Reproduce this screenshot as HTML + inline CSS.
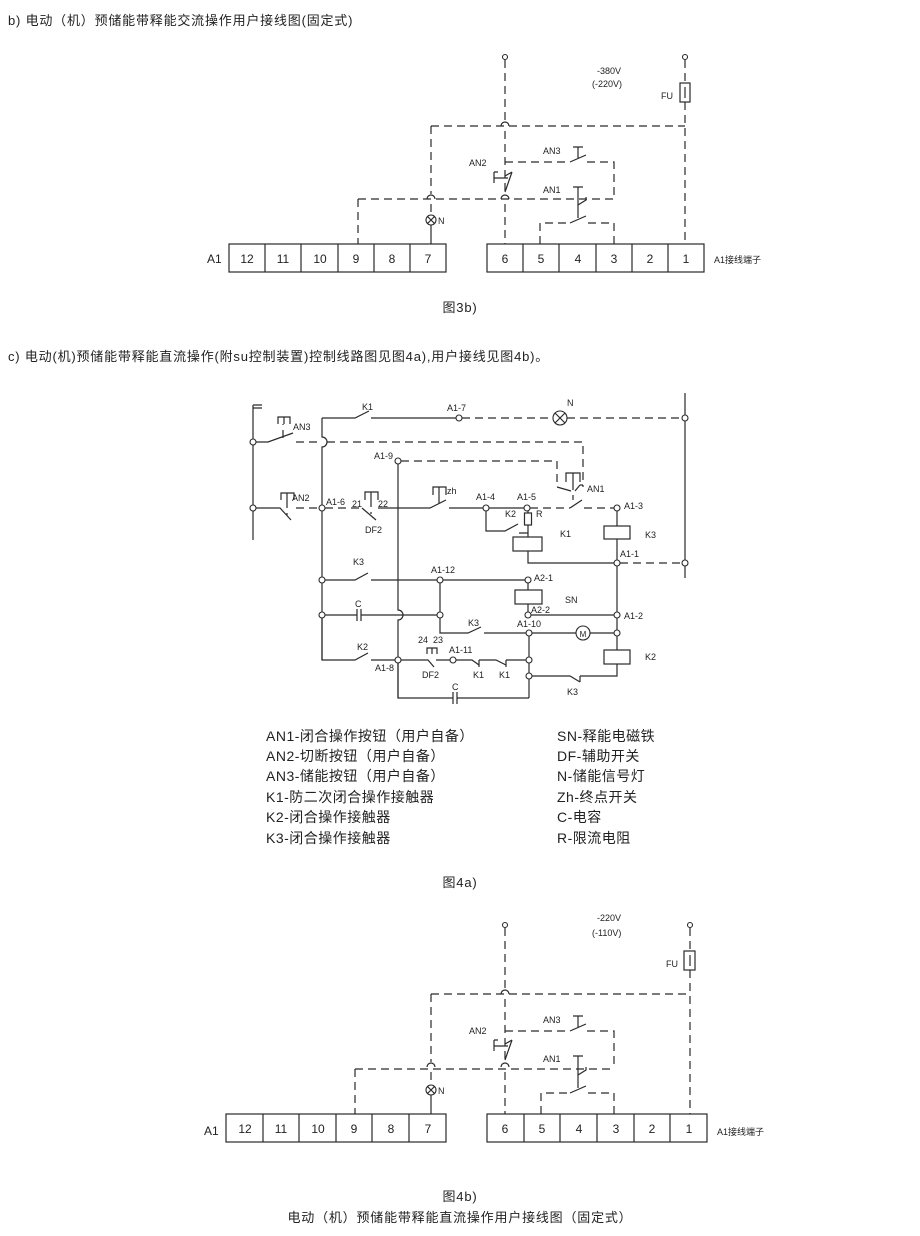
<!DOCTYPE html>
<html><head><meta charset="utf-8">
<style>
html,body{margin:0;padding:0;background:#fff;}
svg{display:block;}
text{font-family:"Liberation Sans","Noto Sans CJK SC",sans-serif;fill:#222;}
.s{stroke:#2a2a2a;stroke-width:1.2;fill:none;}
.d{stroke:#2a2a2a;stroke-width:1.2;fill:none;stroke-dasharray:8,5;}
.c{stroke:#2a2a2a;stroke-width:1.1;fill:#fff;}
.t{font-size:9px;}
.h{font-size:13px;letter-spacing:0.8px;}
.n{font-size:12px;text-anchor:middle;}
.lg{font-size:14px;letter-spacing:0.5px;}
</style></head><body>
<svg width="920" height="1236" viewBox="0 0 920 1236" xmlns="http://www.w3.org/2000/svg">
<text x="8" y="25" class="h">b) 电动（机）预储能带释能交流操作用户接线图(固定式)</text>

<!-- ===== Fig 3b ===== -->
<g>
<circle cx="505" cy="57" r="2.5" class="c"/><circle cx="685" cy="57" r="2.5" class="c"/>
<path class="d" d="M505 60V121M505 131V194M505 204V244"/>
<path class="s" d="M501 126a4 4 0 0 1 8 0M501 199a4 4 0 0 1 8 0"/>
<path class="d" d="M685 60V83M685 102V244"/>
<rect x="680" y="83" width="10" height="19" class="s"/><path class="s" d="M685 87V98"/>
<text x="597" y="74" class="t">-380V</text><text x="592" y="87" class="t">(-220V)</text>
<text x="661" y="99" class="t">FU</text>
<path class="d" d="M431 126H685M431 126V194M431 204V215"/>
<path class="s" d="M427 199a4 4 0 0 1 8 0"/>
<circle cx="431" cy="220" r="5" class="c"/><path class="s" d="M427.5 216.5l7 7M434.5 216.5l-7 7M431 225V244"/>
<text x="438" y="224" class="t">N</text>
<path class="d" d="M358 199H614M358 199V244"/>
<path class="d" d="M505 162H570M587 162H614V199"/>
<path class="s" d="M570 162L586 155M578 158V147M573 147H583"/>
<text x="543" y="154" class="t">AN3</text>
<path class="s" d="M505 192L512 172M512 172L505 176M494 172V183M494 178H508M494 172h4"/>
<text x="469" y="166" class="t">AN2</text>
<path class="s" d="M578 187V218M573 187H583M578 205L586 200L586 197M570 223L586 216"/>
<text x="543" y="193" class="t">AN1</text>
<path class="d" d="M540 244V223H570M588 223H614V244"/>
<text x="207" y="263" style="font-size:12px">A1</text>
<g class="s"><rect x="229" y="244" width="217" height="28"/><path d="M265 244v28M301 244v28M338 244v28M374 244v28M410 244v28"/>
<rect x="487" y="244" width="217" height="28"/><path d="M523 244v28M559 244v28M596 244v28M632 244v28M668 244v28"/></g>
<text x="247" y="263" class="n">12</text><text x="283" y="263" class="n">11</text><text x="320" y="263" class="n">10</text><text x="356" y="263" class="n">9</text><text x="392" y="263" class="n">8</text><text x="428" y="263" class="n">7</text>
<text x="505" y="263" class="n">6</text><text x="541" y="263" class="n">5</text><text x="578" y="263" class="n">4</text><text x="614" y="263" class="n">3</text><text x="650" y="263" class="n">2</text><text x="686" y="263" class="n">1</text>
<text x="714" y="263" class="t">A1接线端子</text>
</g>
<text x="460" y="312" class="h" text-anchor="middle">图3b)</text>
<text x="8" y="361" class="h">c) 电动(机)预储能带释能直流操作(附su控制装置)控制线路图见图4a),用户接线见图4b)。</text>

<!-- ===== Fig 4a ===== -->
<g>
<path class="s" d="M253 405V540M253 405h9M253 408h9"/>
<circle cx="253" cy="442" r="3" class="c"/>
<path class="s" d="M256 442H268L293 433"/>
<path class="d" d="M283 438V424"/><path class="s" d="M278 424V417H290V424M284 417v7"/>
<text x="293" y="430" class="t">AN3</text>
<path class="d" d="M296 442H317M327 442H583V487"/>
<path class="s" d="M322 418V437a5 5 0 0 1 0 10V660"/>
<path class="s" d="M322 418H355L369 411M371 418H456"/>
<text x="362" y="410" class="t">K1</text>
<circle cx="459" cy="418" r="3" class="c"/><text x="447" y="411" class="t">A1-7</text>
<path class="d" d="M462 418H553M567 418H682"/>
<circle cx="560" cy="418" r="7" class="c"/><path class="s" d="M555 413l10 10M565 413l-10 10"/>
<text x="567" y="406" class="t">N</text>
<path class="s" d="M685 393V578"/>
<circle cx="685" cy="418" r="3" class="c"/><circle cx="685" cy="563" r="3" class="c"/>
<circle cx="398" cy="461" r="3" class="c"/><text x="374" y="459" class="t">A1-9</text>
<path class="d" d="M401 461H557V487"/>
<path class="s" d="M398 464V610a5 5 0 0 1 0 10V698"/>
<path class="s" d="M566 482V473H580V482M573 473v9"/>
<path class="d" d="M573 482V500"/>
<path class="s" d="M557 487L571 491M575 491L580 485M580 485H583"/>
<text x="587" y="492" class="t">AN1</text>
<circle cx="253" cy="508" r="3" class="c"/>
<path class="s" d="M256 508H280L291 520M281 500V493H294V500M287 493v7"/>
<path class="d" d="M287 500V515M296 508H319"/>
<text x="292" y="501" class="t">AN2</text>
<circle cx="322" cy="508" r="3" class="c"/><text x="326" y="505" class="t">A1-6</text>
<path class="d" d="M325 508H362"/>
<path class="s" d="M362 508L376 520M365 500V492H378V500M371 492v7"/>
<path class="d" d="M371 499V514"/>
<text x="352" y="507" class="t">21</text><text x="378" y="507" class="t">22</text>
<text x="365" y="533" class="t">DF2</text>
<path class="s" d="M378 508H430L446 500M449 508H483"/>
<path class="s" d="M433 495V487H446V495M439 487v8"/><path class="d" d="M439 495V505"/>
<text x="447" y="494" class="t">zh</text>
<circle cx="486" cy="508" r="3" class="c"/><text x="476" y="500" class="t">A1-4</text>
<path class="s" d="M489 508H524"/>
<circle cx="527" cy="508" r="3" class="c"/><text x="517" y="500" class="t">A1-5</text>
<path class="d" d="M530 508H570"/>
<path class="s" d="M570 508L582 500"/>
<path class="d" d="M584 508H614"/>
<circle cx="617" cy="508" r="3" class="c"/><text x="624" y="509" class="t">A1-3</text>
<path class="s" d="M486 511V531H505L518 524M519 533H528M528 511V513M528 525V537"/>
<rect x="524.5" y="513" width="7" height="12" class="s"/>
<text x="505" y="517" class="t">K2</text><text x="536" y="517" class="t">R</text>
<rect x="513" y="537" width="29" height="14" class="s"/>
<text x="560" y="537" class="t">K1</text>
<path class="s" d="M528 551V563H614"/>
<circle cx="617" cy="563" r="3" class="c"/><text x="620" y="557" class="t">A1-1</text>
<path class="d" d="M620 563H682"/>
<path class="s" d="M617 511V526M617 539V560"/>
<rect x="604" y="526" width="26" height="13" class="s"/><text x="645" y="538" class="t">K3</text>
<path class="s" d="M617 566V612M617 618V630M617 636V650"/>
<circle cx="322" cy="580" r="3" class="c"/>
<path class="s" d="M325 580H355L368 573M371 580H437"/>
<text x="353" y="565" class="t">K3</text>
<circle cx="440" cy="580" r="3" class="c"/><text x="431" y="573" class="t">A1-12</text>
<path class="s" d="M443 580H525"/>
<circle cx="528" cy="580" r="3" class="c"/><text x="534" y="581" class="t">A2-1</text>
<path class="s" d="M528 583V590M528 604V612"/>
<rect x="515" y="590" width="27" height="14" class="s"/><text x="565" y="603" class="t">SN</text>
<circle cx="528" cy="615" r="3" class="c"/><text x="531" y="613" class="t">A2-2</text>
<path class="s" d="M531 615H614"/>
<circle cx="617" cy="615" r="3" class="c"/><text x="624" y="619" class="t">A1-2</text>
<circle cx="322" cy="615" r="3" class="c"/>
<path class="s" d="M325 615H357M357 609V621M361 609V621M361 615H437"/>
<text x="355" y="607" class="t">C</text>
<circle cx="440" cy="615" r="3" class="c"/>
<path class="s" d="M440 583V612M440 618V633H468L481 627M484 633H526"/>
<text x="468" y="626" class="t">K3</text>
<circle cx="529" cy="633" r="3" class="c"/><text x="517" y="627" class="t">A1-10</text>
<path class="s" d="M532 633H576M590 633H614"/>
<circle cx="583" cy="633" r="7" class="c"/><text x="583" y="637" class="t" text-anchor="middle" style="font-size:8px">M</text>
<circle cx="617" cy="633" r="3" class="c"/>
<rect x="604" y="650" width="26" height="14" class="s"/><text x="645" y="660" class="t">K2</text>
<path class="s" d="M322 618V660H355L368 653M371 660H395"/>
<text x="357" y="650" class="t">K2</text>
<circle cx="398" cy="660" r="3" class="c"/><text x="375" y="671" class="t">A1-8</text>
<path class="s" d="M401 660H428L434 667M436 660H450M427 654V648H437V654M432 648v6"/>
<text x="418" y="643" class="t">24</text><text x="433" y="643" class="t">23</text>
<text x="422" y="678" class="t">DF2</text>
<circle cx="453" cy="660" r="3" class="c"/><text x="449" y="653" class="t">A1-11</text>
<path class="s" d="M456 660H472L479 665M479 660V667M479 660H496L506 665M506 660V667M506 660H526"/>
<text x="473" y="678" class="t">K1</text><text x="499" y="678" class="t">K1</text>
<circle cx="529" cy="660" r="3" class="c"/>
<path class="s" d="M529 636V657M529 663V673M529 679V698"/>
<circle cx="529" cy="676" r="3" class="c"/>
<path class="s" d="M532 676H570L580 682M580 676V682M580 676H617V664"/>
<text x="567" y="695" class="t">K3</text>
<path class="s" d="M398 663V698H453M453 692V704M457 692V704M457 698H529"/>
<text x="452" y="690" class="t">C</text>
</g>

<!-- legend -->
<text x="266" y="741" class="lg">AN1-闭合操作按钮（用户自备）</text>
<text x="266" y="761" class="lg">AN2-切断按钮（用户自备）</text>
<text x="266" y="781" class="lg">AN3-储能按钮（用户自备）</text>
<text x="266" y="802" class="lg">K1-防二次闭合操作接触器</text>
<text x="266" y="822" class="lg">K2-闭合操作接触器</text>
<text x="266" y="843" class="lg">K3-闭合操作接触器</text>
<text x="557" y="741" class="lg">SN-释能电磁铁</text>
<text x="557" y="761" class="lg">DF-辅助开关</text>
<text x="557" y="781" class="lg">N-储能信号灯</text>
<text x="557" y="802" class="lg">Zh-终点开关</text>
<text x="557" y="822" class="lg">C-电容</text>
<text x="557" y="843" class="lg">R-限流电阻</text>
<text x="460" y="887" class="h" text-anchor="middle">图4a)</text>

<!-- ===== Fig 4b ===== -->
<g transform="translate(0,868)">
<circle cx="505" cy="57" r="2.5" class="c"/><circle cx="690" cy="57" r="2.5" class="c"/>
<path class="d" d="M505 60V121M505 131V194M505 204V246"/>
<path class="s" d="M501 126a4 4 0 0 1 8 0M501 199a4 4 0 0 1 8 0"/>
<path class="d" d="M690 60V83M690 102V246"/>
<rect x="684" y="83" width="11" height="19" class="s"/><path class="s" d="M690 87V98"/>
<text x="597" y="53" class="t">-220V</text><text x="592" y="68" class="t">(-110V)</text>
<text x="666" y="99" class="t">FU</text>
<path class="d" d="M431 126H690M431 126V194M431 204V217"/>
<path class="s" d="M427 199a4 4 0 0 1 8 0"/>
<circle cx="431" cy="222" r="5" class="c"/><path class="s" d="M427.5 218.5l7 7M434.5 218.5l-7 7M431 227V246"/>
<text x="438" y="226" class="t">N</text>
<path class="d" d="M355 201H614M355 201V246"/>
<path class="d" d="M505 163H570M587 163H614V201"/>
<path class="s" d="M570 163L586 156M578 159V148M573 148H583"/>
<text x="543" y="155" class="t">AN3</text>
<path class="s" d="M505 192L512 172M512 172L505 176M494 172V183M494 178H508M494 172h4"/>
<text x="469" y="166" class="t">AN2</text>
<path class="s" d="M578 188V220M573 188H583M578 207L586 202L586 199M570 225L586 218"/>
<text x="543" y="194" class="t">AN1</text>
<path class="d" d="M541 246V225H570M588 225H614V246"/>
<text x="204" y="267" style="font-size:12px">A1</text>
<g class="s"><rect x="226" y="246" width="220" height="28"/><path d="M263 246v28M299 246v28M336 246v28M372 246v28M409 246v28"/>
<rect x="487" y="246" width="220" height="28"/><path d="M524 246v28M560 246v28M597 246v28M634 246v28M670 246v28"/></g>
<text x="245" y="265" class="n">12</text><text x="281" y="265" class="n">11</text><text x="318" y="265" class="n">10</text><text x="354" y="265" class="n">9</text><text x="391" y="265" class="n">8</text><text x="428" y="265" class="n">7</text>
<text x="505" y="265" class="n">6</text><text x="542" y="265" class="n">5</text><text x="579" y="265" class="n">4</text><text x="616" y="265" class="n">3</text><text x="652" y="265" class="n">2</text><text x="689" y="265" class="n">1</text>
<text x="717" y="267" class="t">A1接线端子</text>
</g>
<text x="460" y="1201" class="h" text-anchor="middle">图4b)</text>
<text x="460" y="1222" class="h" text-anchor="middle">电动（机）预储能带释能直流操作用户接线图（固定式）</text>
</svg>
</body></html>
